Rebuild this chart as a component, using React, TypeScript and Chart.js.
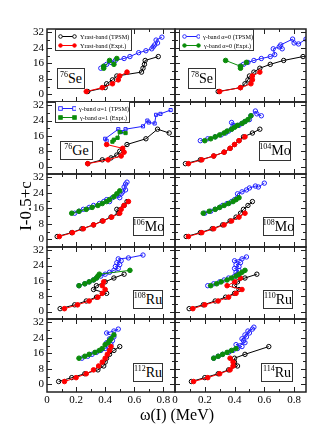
import React, { useEffect, useRef } from "react";
import { Chart, registerables } from "chart.js";
Chart.register(...registerables);

type Pt = [number, number];

// ---------- axis ticks ----------
const xTickValues = [0, 0.2, 0.4, 0.6, 0.8];
const xTickLabels = ["0", "0.2", "0.4", "0.6", "0.8"];
const xMinorValues = [0.1, 0.3, 0.5, 0.7];
const yTickValues = [0, 8, 16, 24, 32];
const yTickLabels = ["0", "8", "16", "24", "32"];
const yMinorValues = [4, 12, 20, 28];
const xRange = [0, 0.88];
const yRange = [-3.9, 33.7];

// ---------- titles / labels ----------
const xTitle = "ω(I) (MeV)";
const yTitle = "I-0.5+c";
const masses = ["76", "78", "76", "104", "106", "108", "108", "110", "112", "114"];
const symbols = ["Se", "Se", "Ge", "Mo", "Mo", "Mo", "Ru", "Ru", "Ru", "Ru"];
const legendYrast = ["Yrast-band (TPSM)", "Yrast-band (Expt.)"];
const legendGamma0 = ["γ-band α=0 (TPSM)", "γ-band α=0 (Expt.)"];
const legendGamma1 = ["γ-band α=1 (TPSM)", "γ-band α=1 (Expt.)"];

// ---------- data: [ω(I) MeV, I-0.5+c] ----------
// 76Se
const se76YrastTh: Pt[] = [[0.28,1.5],[0.40,3.5],[0.41,5.5],[0.45,7.5],[0.48,9.5],[0.65,11.5],[0.66,13.5],[0.67,15.5],[0.675,17.5],[0.765,19.5]];
const se76YrastEx: Pt[] = [[0.27,1.5],[0.38,3.5],[0.45,5.5],[0.49,7.5],[0.50,9.5],[0.55,11.5]];
const se76GammaTh: Pt[] = [[0.37,13.5],[0.39,14.5],[0.41,15.5],[0.44,16.5],[0.47,17.5],[0.53,18.5],[0.57,19.5],[0.63,21.5],[0.68,22.5],[0.72,23.5],[0.74,25.5],[0.73,24.5],[0.76,26.5],[0.75,28],[0.79,29.5]];
const se76GammaEx: Pt[] = [[0.39,14.5],[0.39,13.5],[0.43,17.5],[0.46,15.5],[0.48,18.5]];
// 78Se
const se78YrastTh: Pt[] = [[0.29,1.5],[0.44,3.5],[0.47,5.5],[0.49,7.5],[0.50,9.5],[0.53,11.5],[0.57,13.5],[0.64,15.5],[0.73,17.5],[0.86,19.5]];
const se78YrastEx: Pt[] = [[0.30,1.5],[0.44,3.5],[0.51,5.5],[0.52,7.5],[0.52,9.5],[0.57,11.5]];
const se78GammaTh: Pt[] = [[0.44,14.5],[0.46,15.5],[0.49,16.5],[0.53,17.5],[0.58,18.5],[0.64,19.5],[0.67,20.5],[0.66,23.5],[0.70,24.5],[0.72,23.5],[0.71,25.5],[0.79,28.5],[0.80,26.5],[0.83,26],[0.88,28.5]];
const se78GammaEx: Pt[] = [[0.34,17.5],[0.44,14.5],[0.44,13.5],[0.48,16.5]];
// 76Ge
const ge76YrastTh: Pt[] = [[0.28,1.5],[0.38,3.5],[0.44,4.5],[0.48,6],[0.50,8],[0.55,11.5],[0.68,14.5],[0.76,19.5],[0.84,17.5]];
const ge76YrastEx: Pt[] = [[0.28,1.5],[0.42,3.5],[0.51,5.5],[0.53,7.5],[0.52,9.5],[0.41,11.5]];
const ge76GammaTh: Pt[] = [[0.41,13.5],[0.40,14.5],[0.49,19.5],[0.51,18],[0.54,19.5],[0.66,21],[0.69,24],[0.70,23],[0.74,22.5],[0.75,27],[0.78,27.5],[0.85,29.5]];
const ge76GammaEx: Pt[] = [[0.45,13],[0.46,14],[0.485,15],[0.50,18],[0.54,17.5]];
// 104Mo
const mo104YrastTh: Pt[] = [[0.07,1.5],[0.17,3.5],[0.26,5.5],[0.33,7.5],[0.37,9.5],[0.40,11.5],[0.43,13.5],[0.46,15.5],[0.52,17.5],[0.57,19.5]];
const mo104YrastEx: Pt[] = [[0.09,1.5],[0.18,3.5],[0.26,5.5],[0.33,7.5],[0.37,9.5],[0.40,11.5],[0.43,13.5],[0.47,15.5]];
const mo104GammaTh: Pt[] = [[0.17,13.5],[0.22,14.5],[0.27,15.5],[0.31,16.5],[0.34,17.5],[0.36,18.5],[0.38,19.5],[0.39,21],[0.38,23],[0.43,21.5],[0.45,22.5],[0.47,23.5],[0.50,24.5],[0.51,26.5],[0.54,29],[0.55,27.5],[0.58,26.5]];
const mo104GammaEx: Pt[] = [[0.20,13.5],[0.24,14.5],[0.27,15.5],[0.30,16.5],[0.33,17.5],[0.35,18.5],[0.38,19.5],[0.40,20.5],[0.42,21.5],[0.45,22.5],[0.47,23.5],[0.49,24.5],[0.51,26.5]];
// 106Mo
const mo106YrastTh: Pt[] = [[0.07,1.5],[0.17,3.5],[0.24,5.5],[0.32,7.5],[0.38,9.5],[0.44,11.5],[0.49,13.5],[0.48,15.5],[0.53,17.5],[0.55,19.5]];
const mo106YrastEx: Pt[] = [[0.085,1.5],[0.175,3.5],[0.25,5.5],[0.32,7.5],[0.385,9.5],[0.445,11.5],[0.50,13.5],[0.51,15.5],[0.53,17.5],[0.56,19.5]];
const mo106GammaTh: Pt[] = [[0.19,13.5],[0.22,14.5],[0.25,15.5],[0.29,16.5],[0.32,17.5],[0.36,18.5],[0.39,19.5],[0.41,20.5],[0.43,19.5],[0.45,21.5],[0.48,22.5],[0.50,21.5],[0.51,23.5],[0.52,24.5],[0.54,25.5],[0.53,27],[0.54,28.5],[0.55,29.5]];
const mo106GammaEx: Pt[] = [[0.17,13.5],[0.22,14.5],[0.27,15.5],[0.31,16.5],[0.35,17.5],[0.38,18.5],[0.41,19.5],[0.43,20.5],[0.46,22],[0.48,23.5],[0.50,25]];
// 108Mo
const mo108YrastTh: Pt[] = [[0.075,1.5],[0.17,3.5],[0.25,5.5],[0.32,7.5],[0.37,9.5],[0.41,11.5],[0.44,13.5],[0.46,15.5],[0.49,17.5],[0.52,19.5]];
const mo108YrastEx: Pt[] = [[0.09,1.5],[0.18,3.5],[0.26,5.5],[0.33,7.5],[0.38,9.5],[0.43,11.5],[0.47,13.5]];
const mo108GammaTh: Pt[] = [[0.20,13.5],[0.24,14.5],[0.27,15.5],[0.30,16.5],[0.32,17.5],[0.35,18.5],[0.38,19.5],[0.40,20.5],[0.42,21.5],[0.42,23.5],[0.45,24.5],[0.48,25.5],[0.50,26.5],[0.54,27.5],[0.56,27],[0.60,29]];
const mo108GammaEx: Pt[] = [[0.19,13.5],[0.23,14.5],[0.27,15.5],[0.30,16.5],[0.33,17.5],[0.36,18.5],[0.39,19.5],[0.41,20.5],[0.43,21.5]];
// 108Ru
const ru108YrastTh: Pt[] = [[0.09,1.5],[0.19,3.5],[0.27,5.5],[0.34,7.5],[0.41,9.5],[0.32,11.5],[0.34,13.5],[0.40,15.5],[0.46,17.5],[0.53,19.5]];
const ru108YrastEx: Pt[] = [[0.12,1.5],[0.21,3.5],[0.29,5.5],[0.35,7.5],[0.38,9.5],[0.40,11.5],[0.38,13.5],[0.39,15.5]];
const ru108GammaTh: Pt[] = [[0.22,13.5],[0.26,14.5],[0.29,15.5],[0.32,16.5],[0.34,17.5],[0.37,18.5],[0.40,19.5],[0.43,20.5],[0.46,21.5],[0.49,22.5],[0.47,23.5],[0.50,24.5],[0.48,25.5],[0.51,26.5],[0.49,27.5],[0.56,28],[0.66,29.5]];
const ru108GammaEx: Pt[] = [[0.22,13.5],[0.26,14.5],[0.29,15.5],[0.32,16.5],[0.34,17.5],[0.35,18.5],[0.36,19.5],[0.57,21.5]];
// 110Ru
const ru110YrastTh: Pt[] = [[0.095,1.5],[0.19,3.5],[0.27,5.5],[0.34,7.5],[0.40,9.5],[0.43,11.5],[0.40,13.5],[0.42,15.5],[0.47,17.5],[0.55,19.5]];
const ru110YrastEx: Pt[] = [[0.12,1.5],[0.20,3.5],[0.29,5.5],[0.36,7.5],[0.41,9.5],[0.45,11.5],[0.35,13.5],[0.40,15.5],[0.44,17.5]];
const ru110GammaTh: Pt[] = [[0.22,13.5],[0.26,14.5],[0.30,15.5],[0.33,16.5],[0.36,17.5],[0.40,18.5],[0.42,19.5],[0.41,20.5],[0.43,21.5],[0.40,22.5],[0.43,23.5],[0.41,24.5],[0.44,25.5],[0.40,26.5],[0.45,27.5],[0.48,28.5]];
const ru110GammaEx: Pt[] = [[0.24,13.5],[0.28,14.5],[0.31,15.5],[0.35,16.5],[0.38,17.5],[0.41,18.5],[0.43,19.5],[0.45,20.5],[0.47,21.5]];
// 112Ru
const ru112YrastTh: Pt[] = [[0.08,1.5],[0.17,3.5],[0.26,5.5],[0.35,7.5],[0.39,9.5],[0.40,11.5],[0.41,13.5],[0.43,15.5],[0.46,17.5],[0.50,19.5]];
const ru112YrastEx: Pt[] = [[0.12,1.5],[0.20,3.5],[0.27,5.5],[0.32,7.5],[0.355,9.5],[0.38,11.5],[0.40,13.5],[0.415,15.5],[0.43,17.5],[0.44,19.5]];
const ru112GammaTh: Pt[] = [[0.24,13.5],[0.28,14.5],[0.31,15.5],[0.34,16.5],[0.37,17.5],[0.40,18.5],[0.42,19.5],[0.44,20.5],[0.41,21.5],[0.45,22.5],[0.43,23.5],[0.46,24.5],[0.41,26.5],[0.46,27.5],[0.49,28.5]];
const ru112GammaEx: Pt[] = [[0.22,13.5],[0.26,14.5],[0.29,15.5],[0.33,16.5],[0.36,17.5],[0.38,18.5],[0.40,20.5],[0.42,21.5],[0.43,22.5],[0.44,23.5],[0.46,25.5]];
// 114Ru
const ru114YrastTh: Pt[] = [[0.11,1.5],[0.20,3.5],[0.29,5.5],[0.36,7.5],[0.42,9.5],[0.40,11.5],[0.40,13.5],[0.47,15.5],[0.63,19.5]];
const ru114YrastEx: Pt[] = [[0.125,1.5],[0.22,3.5],[0.30,5.5],[0.37,7.5],[0.39,9.5],[0.39,11.5],[0.37,13.5]];
const ru114GammaTh: Pt[] = [[0.26,13.5],[0.29,14.5],[0.32,15.5],[0.36,16.5],[0.39,17.5],[0.42,18.5],[0.45,19.5],[0.41,20.5],[0.47,21.5],[0.46,22.5],[0.45,23.5],[0.48,24.5],[0.47,25.5],[0.50,26.5],[0.49,27.5],[0.52,28.5],[0.53,29.5]];
const ru114GammaEx: Pt[] = [[0.26,13.5],[0.29,14.5],[0.32,15.5],[0.35,16.5],[0.38,17.5],[0.41,18.5]];

const panelData = [
  [se76YrastTh, se76YrastEx, se76GammaTh, se76GammaEx],
  [se78YrastTh, se78YrastEx, se78GammaTh, se78GammaEx],
  [ge76YrastTh, ge76YrastEx, ge76GammaTh, ge76GammaEx],
  [mo104YrastTh, mo104YrastEx, mo104GammaTh, mo104GammaEx],
  [mo106YrastTh, mo106YrastEx, mo106GammaTh, mo106GammaEx],
  [mo108YrastTh, mo108YrastEx, mo108GammaTh, mo108GammaEx],
  [ru108YrastTh, ru108YrastEx, ru108GammaTh, ru108GammaEx],
  [ru110YrastTh, ru110YrastEx, ru110GammaTh, ru110GammaEx],
  [ru112YrastTh, ru112YrastEx, ru112GammaTh, ru112GammaEx],
  [ru114YrastTh, ru114YrastEx, ru114GammaTh, ru114GammaEx],
];

// ---------- layout / style ----------
const COLS = [{ x: 47, w: 128 }, { x: 175, w: 131 }];
const ROW_EDGES = [29, 102, 174, 247, 319, 392];
const L = 40, T = 12, R = 10, B = 22;
const SERIF = '"Liberation Serif", "Times New Roman", serif';
const BLACK = "#000000", RED = "#ff0000", BLUE = "#2020ff", GREEN = "#0b8c0b";
// label box geometry [left, top, width, height]
const labelBoxes = [
  [57, 68, 28, 21], [188, 68, 28, 21],
  [60, 141, 33, 19], [259, 141, 32, 20],
  [133, 217, 31, 19], [263, 217, 31, 19],
  [133, 290, 30, 19], [263, 290, 30, 19],
  [133, 363, 30, 19], [261, 363, 32, 19],
];

const framePlugin = {
  id: "frameTicks",
  afterDraw(chart: any) {
    const { ctx, chartArea } = chart;
    const { left, right, top, bottom } = chartArea;
    const xs = chart.scales.x, ys = chart.scales.y;
    ctx.save();
    ctx.strokeStyle = "#222";
    ctx.lineWidth = 1;
    const tick = (x1: number, y1: number, x2: number, y2: number) => {
      ctx.beginPath(); ctx.moveTo(x1, y1); ctx.lineTo(x2, y2); ctx.stroke();
    };
    const xt = [...xTickValues.map((v) => [v, 5]), ...xMinorValues.map((v) => [v, 3])];
    xt.forEach(([v, len]) => {
      const px = Math.round(xs.getPixelForValue(v)) + 0.5;
      if (px < left + 1.5 || px > right - 1.5) return;
      tick(px, bottom, px, bottom - len);
      tick(px, top, px, top + len);
    });
    const yt = [...yTickValues.map((v) => [v, 5]), ...yMinorValues.map((v) => [v, 3])];
    yt.forEach(([v, len]) => {
      const py = Math.round(ys.getPixelForValue(v)) + 0.5;
      if (py < top + 1.5 || py > bottom - 1.5) return;
      tick(left, py, left + len, py);
      tick(right, py, right - len, py);
    });
    ctx.lineWidth = 1.5;
    ctx.strokeStyle = "#222";
    ctx.strokeRect(left, top, right - left, bottom - top);
    ctx.restore();
  },
};

function makeDs(data: Pt[], color: string, filled: boolean, square: boolean) {
  return {
    data: data.map(([x, y]) => ({ x, y })),
    borderColor: color,
    backgroundColor: filled ? color : "rgba(255,255,255,0)",
    pointBorderColor: color,
    pointBackgroundColor: filled ? color : "rgba(255,255,255,0)",
    pointStyle: square ? "rect" : "circle",
    pointRadius: filled ? 2.3 : 2.2,
    pointBorderWidth: 1,
    borderWidth: 1,
    showLine: true,
    fill: false,
    tension: 0,
  };
}

function Panel({ idx }: { idx: number }) {
  const ref = useRef<HTMLCanvasElement>(null);
  const row = Math.floor(idx / 2), col = idx % 2;
  const { x, w } = COLS[col];
  const y = ROW_EDGES[row];
  const h = ROW_EDGES[row + 1] - y;
  const cw = L + w + R, ch = T + h + B;
  useEffect(() => {
    const [yTh, yEx, gTh, gEx] = panelData[idx];
    const sq = idx === 2;
    const chart = new Chart(ref.current as HTMLCanvasElement, {
      type: "line",
      data: {
        datasets: [
          makeDs(gEx, GREEN, true, sq),
          makeDs(yEx, RED, true, false),
          makeDs(gTh, BLUE, false, sq),
          makeDs(yTh, BLACK, false, false),
        ] as any,
      },
      options: {
        animation: false,
        responsive: false,
        devicePixelRatio: 1,
        layout: { padding: { top: T, right: R, left: 0, bottom: 0 } },
        plugins: { legend: { display: false }, tooltip: { enabled: false } },
        events: [],
        scales: {
          x: {
            type: "linear",
            min: xRange[0],
            max: xRange[1],
            grid: { display: false, drawTicks: false },
            border: { display: false },
            afterBuildTicks: (s: any) => { s.ticks = xTickValues.map((v) => ({ value: v })); },
            afterFit: (s: any) => { s.height = B; },
            ticks: {
              display: row === 4,
              padding: 2,
              color: "#000",
              font: { family: SERIF, size: 11 },
              callback: (_v: any, i: number) => xTickLabels[i],
              maxRotation: 0,
              autoSkip: false,
            },
          },
          y: {
            type: "linear",
            min: yRange[0],
            max: yRange[1],
            grid: { display: false, drawTicks: false },
            border: { display: false },
            afterBuildTicks: (s: any) => { s.ticks = yTickValues.map((v) => ({ value: v })); },
            afterFit: (s: any) => { s.width = L; },
            ticks: {
              display: col === 0,
              padding: 3,
              color: "#000",
              font: { family: SERIF, size: 11 },
              callback: (_v: any, i: number) => yTickLabels[i],
              autoSkip: false,
            },
          },
        },
      } as any,
      plugins: [framePlugin],
    });
    return () => chart.destroy();
  }, [idx]);
  return (
    <canvas
      ref={ref}
      width={cw}
      height={ch}
      style={{ position: "absolute", left: x - L, top: y - T, width: cw, height: ch }}
    />
  );
}

function Marker({ color, filled, square }: { color: string; filled: boolean; square: boolean }) {
  const fill = filled ? color : "#fff";
  const m = (cx: number) =>
    square ? (
      <rect x={cx - 1.8} y={1.7} width={3.6} height={3.6} fill={fill} stroke={color} strokeWidth={0.9} />
    ) : (
      <circle cx={cx} cy={3.5} r={1.8} fill={fill} stroke={color} strokeWidth={0.9} />
    );
  return (
    <svg width={19} height={7} style={{ display: "block" }}>
      <line x1={2.5} y1={3.5} x2={16.5} y2={3.5} stroke={color} strokeWidth={1} />
      {m(2.5)}
      {m(16.5)}
    </svg>
  );
}

function Legend({ x, y, w, labels, colors, square }: any) {
  return (
    <div
      style={{
        position: "absolute", left: x, top: y, width: w, height: 22,
        border: "1px solid #333", background: "#fff", boxSizing: "border-box",
        fontFamily: SERIF, fontSize: 6.2, lineHeight: "9px", padding: "1.5px 0 0 2px", color: "#000",
      }}
    >
      {labels.map((lab: string, i: number) => (
        <div key={i} style={{ display: "flex", alignItems: "center", height: 9 }}>
          <Marker color={colors[i]} filled={i === 1} square={square} />
          <span style={{ marginLeft: 3, whiteSpace: "nowrap" }}>{lab}</span>
        </div>
      ))}
    </div>
  );
}

export default function App() {
  return (
    <div style={{ position: "absolute", left: 0, top: 0, width: 311, height: 440, background: "#fff", overflow: "hidden" }}>
      {panelData.map((_, i) => (
        <Panel key={i} idx={i} />
      ))}
      {labelBoxes.map(([lx, ly, lw, lh], i) => (
        <div
          key={"lb" + i}
          style={{
            position: "absolute", left: lx, top: ly, width: lw, height: lh,
            border: "1.5px solid #333", background: "#fff", boxSizing: "border-box",
            fontFamily: SERIF, color: "#000", display: "flex", alignItems: "center", justifyContent: "center",
            lineHeight: 1,
          }}
        >
          <span style={{ fontSize: 8, position: "relative", top: -4 }}>{masses[i]}</span>
          <span style={{ fontSize: 14 }}>{symbols[i]}</span>
        </div>
      ))}
      <Legend x={55} y={29} w={77} labels={legendYrast} colors={[BLACK, RED]} square={false} />
      <Legend x={179} y={29} w={75} labels={legendGamma0} colors={[BLUE, GREEN]} square={false} />
      <Legend x={55} y={101} w={75} labels={legendGamma1} colors={[BLUE, GREEN]} square={true} />
      <div
        style={{
          position: "absolute", left: 25, top: 206, transform: "translate(-50%, -50%) rotate(-90deg)",
          fontFamily: SERIF, fontSize: 17, whiteSpace: "nowrap", color: "#000", lineHeight: 1,
        }}
      >
        {yTitle}
      </div>
      <div
        style={{
          position: "absolute", left: 177, top: 415, transform: "translate(-50%, -50%)",
          fontFamily: SERIF, fontSize: 16, whiteSpace: "nowrap", color: "#000", lineHeight: 1,
        }}
      >
        {xTitle}
      </div>
    </div>
  );
}
